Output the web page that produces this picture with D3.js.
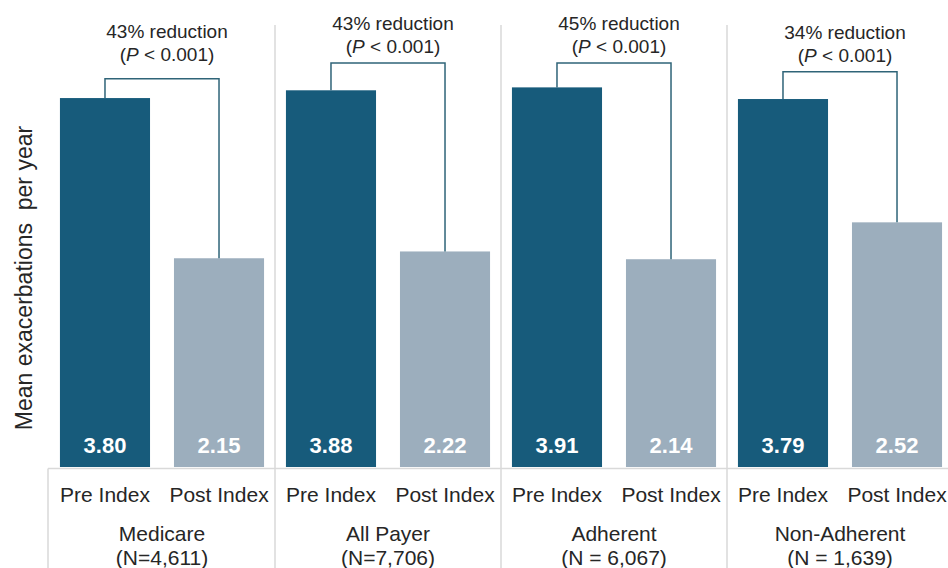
<!DOCTYPE html>
<html>
<head>
<meta charset="utf-8">
<script src="https://cdn.jsdelivr.net/npm/d3@7"></script>
<style>
  body { margin: 0; background: #fff; }
  svg { display: block; font-family: 'Liberation Sans', Arial, sans-serif; }
</style>
</head>
<body>
<svg></svg>
<script>
// data

const groups = ['Medicare', 'All Payer', 'Adherent', 'Non-Adherent'];
const groupNs = ['(N=4,611)', '(N=7,706)', '(N = 6,067)', '(N = 1,639)'];
const periods = ['Pre Index', 'Post Index'];
const preValues = [3.80, 3.88, 3.91, 3.79];
const postValues = [2.15, 2.22, 2.14, 2.52];
const reductions = ['43% reduction', '43% reduction', '45% reduction', '34% reduction'];
const pLabels = ['< 0.001', '< 0.001', '< 0.001', '< 0.001'];
// bracket heights and annotation levels, in y units
const bracketLevels = [4.00, 4.16, 4.16, 4.07];
const noteLevels = [4.18, 4.26, 4.26, 4.17];

const colors = { 'Pre Index': '#175b7b', 'Post Index': '#9caebd' };

const width = 948, height = 568;

const svg = d3.select('svg')
  .attr('width', width)
  .attr('height', height);

// scales

const x0 = d3.scaleBand()
  .domain(groups)
  .range([49, 953])
  .padding(0);

const x1 = d3.scaleBand()
  .domain(periods)
  .range([0, x0.bandwidth()])
  .paddingInner(0.21)
  .paddingOuter(0.096);

const y = d3.scaleLinear()
  .domain([0, 4.81])
  .range([467, 0]);

const data = groups.map((g, i) => ({
  group: g,
  n: groupNs[i],
  values: [
    { period: periods[0], value: preValues[i] },
    { period: periods[1], value: postValues[i] }
  ],
  note: reductions[i],
  p: pLabels[i],
  bracket: bracketLevels[i],
  noteLevel: noteLevels[i]
}));


// grid / separators

const lineColor = '#d9d9d9';

svg.append('line')
  .attr('x1', 48).attr('x2', width)
  .attr('y1', y(0) + 1.5).attr('y2', y(0) + 1.5)
  .attr('stroke', lineColor)
  .attr('stroke-width', 1.5);

svg.append('line')
  .attr('x1', 48).attr('x2', 48)
  .attr('y1', y(0) + 1.5).attr('y2', height)
  .attr('stroke', lineColor)
  .attr('stroke-width', 1.5);

svg.selectAll('line.sep')
  .data(groups.slice(1))
  .enter()
    .append('line')
    .attr('class', 'sep')
    .attr('x1', d => x0(d)).attr('x2', d => x0(d))
    .attr('y1', 25).attr('y2', height)
    .attr('stroke', lineColor)
    .attr('stroke-width', 1.5);


// bars

const groupG = svg.selectAll('g.group')
  .data(data)
  .enter()
    .append('g')
    .attr('class', 'group')
    .attr('transform', d => `translate(${x0(d.group)},0)`);

groupG.selectAll('rect')
  .data(d => d.values)
  .enter()
    .append('rect')
    .attr('x', d => x1(d.period))
    .attr('y', d => y(d.value))
    .attr('width', x1.bandwidth())
    .attr('height', d => y(0) - y(d.value))
    .style('fill', d => colors[d.period]);

groupG.selectAll('text.value')
  .data(d => d.values)
  .enter()
    .append('text')
    .attr('class', 'value')
    .attr('x', d => x1(d.period) + x1.bandwidth() / 2)
    .attr('y', y(0) - 14)
    .attr('text-anchor', 'middle')
    .style('font-size', '22px')
    .style('font-weight', 'bold')
    .style('fill', '#fff')
    .text(d => d.value.toFixed(2));


// brackets

groupG.append('path')
  .attr('d', d => {
    const xa = x1(periods[0]) + x1.bandwidth() / 2,
          xb = x1(periods[1]) + x1.bandwidth() / 2,
          yb = y(d.bracket);
    return `M${xa},${y(d.values[0].value)}V${yb}H${xb}V${y(d.values[1].value)}`;
  })
  .attr('fill', 'none')
  .attr('stroke', '#2f6478')
  .attr('stroke-width', 1.5);

const note = groupG.append('g')
  .attr('transform', d => {
    const cx = (x1(periods[0]) + x1(periods[1]) + x1.bandwidth()) / 2 + 5;
    return `translate(${cx},${y(d.noteLevel)})`;
  })
  .style('font-size', '19px')
  .style('fill', '#262626')
  .attr('text-anchor', 'middle');

note.append('text')
  .attr('y', -23)
  .text(d => d.note);

const pText = note.append('text');
pText.append('tspan').text('(');
pText.append('tspan').text('P').style('font-style', 'italic');
pText.append('tspan').text(d => ' ' + d.p + ')');


// x axes (two levels)

groupG.each(function() {
  const axisG = d3.select(this).append('g')
    .attr('transform', `translate(0,${y(0)})`)
    .call(d3.axisBottom(x1).tickSize(0).tickPadding(20));
  axisG.select('.domain').remove();
  axisG.selectAll('text')
    .style('font-family', "'Liberation Sans', Arial, sans-serif")
    .style('font-size', '21px')
    .style('fill', '#262626');
});

groupG.append('text')
  .attr('x', x0.bandwidth() / 2)
  .attr('y', 541)
  .attr('text-anchor', 'middle')
  .style('font-size', '21px')
  .style('fill', '#262626')
  .text(d => d.group);

groupG.append('text')
  .attr('x', x0.bandwidth() / 2)
  .attr('y', 565)
  .attr('text-anchor', 'middle')
  .style('font-size', '21px')
  .style('fill', '#262626')
  .text(d => d.n);


// y label

svg.append('text')
  .attr('transform', `translate(32,${y(0) - 189}) rotate(-90)`)
  .attr('text-anchor', 'middle')
  .style('font-size', '23px')
  .style('white-space', 'pre')
  .style('fill', '#262626')
  .text('Mean exacerbations  per year');
</script>
</body>
</html>
